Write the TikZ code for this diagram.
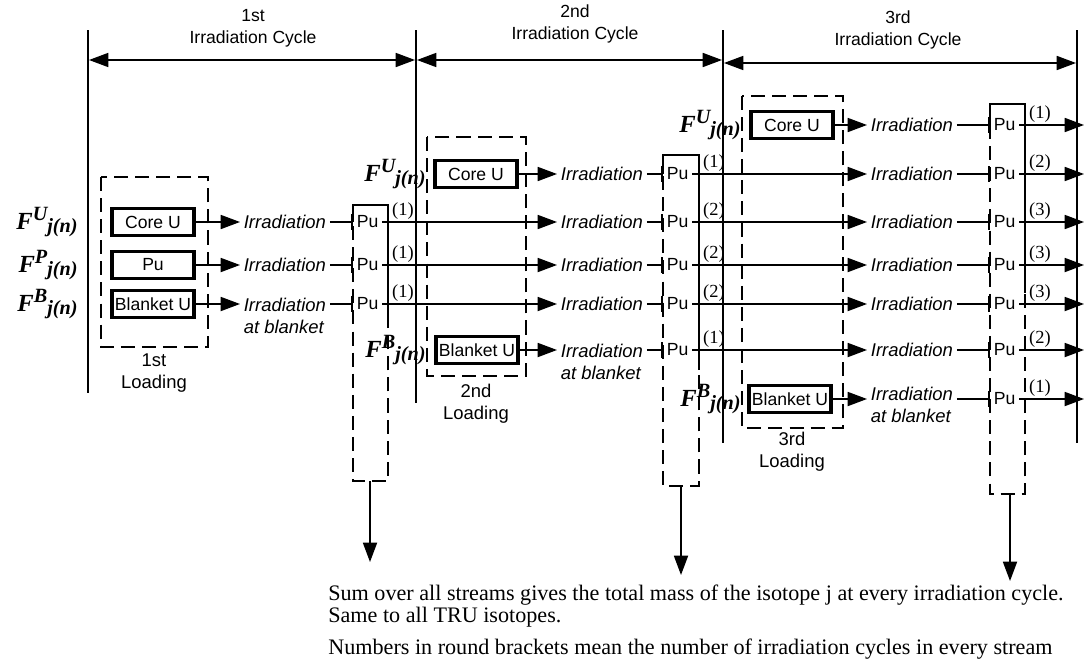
\documentclass[tikz,border=0pt]{standalone}
\usepackage{fontspec}
\setmainfont{Liberation Serif}
\setsansfont{Liberation Sans}
\usetikzlibrary{arrows.meta}

\newcommand{\Flab}[1]{{\fontsize{14}{16}\selectfont\bfseries\itshape F\raisebox{0.36em}{\fontsize{11.5}{13}\selectfont #1}\raisebox{-0.12em}{\fontsize{11.5}{13}\selectfont j(n)}}}

\tikzset{
  line/.style={line width=0.9pt},
  fuelbox/.style={draw, line width=2.2pt, minimum width=1.64cm, minimum height=0.54cm, inner sep=1pt, font=\sffamily\fontsize{10}{12}\selectfont},
  irr/.style={inner sep=2pt, align=left, font=\sffamily\itshape\fontsize{10.5}{12.5}\selectfont},
  pu/.style={anchor=west, inner sep=2pt, font=\sffamily\fontsize{10}{12}\selectfont},
  count/.style={anchor=south west, inner sep=0.5pt, font=\fontsize{10.5}{12}\selectfont},
  flab/.style={anchor=east, inner sep=0pt},
  loading/.style={align=center, font=\sffamily\fontsize{10.5}{12.5}\selectfont},
  cyclab/.style={align=center, font=\sffamily\fontsize{10}{12.5}\selectfont},
  dashbox/.style={line width=0.9pt, dash pattern=on 8pt off 4pt},
  feed/.style={line width=0.9pt, -{Triangle[length=11pt,width=8pt]}},
  span/.style={line width=0.9pt, {Triangle[length=11pt,width=8pt]}-{Triangle[length=11pt,width=8pt]}},
  tick/.style={line width=0.9pt, -{Bar[width=9pt]}},
  note/.style={anchor=north west, align=left, inner sep=0pt, font=\fontsize{12.6}{12}\selectfont},
}

\begin{document}
\begin{tikzpicture}[x=0.02cm, y=-0.02cm]
\useasboundingbox (0,0) rectangle (1084,659);

% irradiation cycles
\draw[line] (88,30) -- (88,393);
\draw[line] (416,30) -- (416,403);
\draw[line] (723,30) -- (723,443);
\draw[line] (1077,30) -- (1077,443);
\coordinate (s1) at (89,60);
\coordinate (s2) at (415,60);
\coordinate (s3) at (417,60);
\coordinate (s4) at (722,60);
\coordinate (s5) at (724,63);
\coordinate (s6) at (1076,63);
\draw[span] (s1) -- (s2);
\draw[span] (s3) -- (s4);
\draw[span] (s5) -- (s6);
\node[cyclab] (cyc1) at (253,28) {1st\\Irradiation Cycle};
\node[cyclab] (cyc2) at (575,24) {2nd\\Irradiation Cycle};
\node[cyclab] (cyc3) at (898,30) {3rd\\Irradiation Cycle};

% 1st loading
\node[flab] (f1u) at (78,222) {\Flab{U}};
\node[flab] (f1p) at (78,265) {\Flab{P}};
\node[flab] (f1b) at (78,304) {\Flab{B}};
\node[fuelbox] (core1) at (153,222) {Core U};
\node[fuelbox] (pu1) at (153,265) {Pu};
\node[fuelbox] (blk1) at (153,304) {Blanket U};
\draw[dashbox] (101,177) rectangle (208,347);
\node[loading] (load1) at (154,373) {1st\\Loading};
\node[irr, anchor=west] (irr1u1) at (240,222) {Irradiation};
\node[irr, anchor=west] (irr1p1) at (240,265) {Irradiation};
\node[irr, anchor=north west] (irr1b1) at (240,294) {Irradiation\\at blanket};
\draw[feed] (core1) -- (irr1u1);
\draw[feed] (pu1) -- (irr1p1);
\draw[feed] (blk1.east) -- (blk1.east -| irr1b1.west);

% Pu after 1st cycle
\draw[dashbox] (353,205) -- (353,481) -- (388,481) -- (388,205);
\draw[line] (353,222) |- (388,205) -- (388,320);
\node[pu] (pu1u1) at (353,222) {Pu};
\node[pu] (pu1p1) at (353,265) {Pu};
\node[pu] (pu1b1) at (353,304) {Pu};
\draw[tick] (irr1u1) -- (pu1u1.west);
\draw[tick] (irr1p1) -- (pu1p1.west);
\draw[tick] (pu1b1.west -| irr1b1.east) -- (pu1b1.west);
\node[count] (k1u1) at (391,221) {(1)};
\node[count] (k1p1) at (391,264) {(1)};
\node[count] (k1b1) at (391,303) {(1)};
\coordinate (out1) at (370,481);
\coordinate (sum1) at (370,562);
\draw[feed] (out1) -- (sum1);

% 2nd loading
\node[flab] (f2u) at (426,174) {\Flab{U}};
\node[flab] (f2b) at (426,350) {\Flab{B}};
\node[fuelbox] (core2) at (476,174) {Core U};
\node[fuelbox] (blk2) at (477,350) {Blanket U};
\draw[dashbox] (427,137) rectangle (526,376);
\node[loading] (load2) at (476,404) {2nd\\Loading};
\node[irr, anchor=west] (irr2u2) at (557,174) {Irradiation};
\node[irr, anchor=west] (irr2u1) at (557,222) {Irradiation};
\node[irr, anchor=west] (irr2p1) at (557,265) {Irradiation};
\node[irr, anchor=west] (irr2b1) at (557,304) {Irradiation};
\node[irr, anchor=north west] (irr2b2) at (557,340) {Irradiation\\at blanket};
\draw[feed] (core2) -- (irr2u2);
\draw[feed] (pu1u1) -- (irr2u1);
\draw[feed] (pu1p1) -- (irr2p1);
\draw[feed] (pu1b1) -- (irr2b1);
\draw[feed] (blk2.east) -- (blk2.east -| irr2b2.west);

% Pu after 2nd cycle
\draw[dashbox] (663,155) -- (663,486) -- (699,486) -- (699,155);
\draw[line] (663,174) |- (699,155) -- (699,370);
\node[pu] (pu2u2) at (663,174) {Pu};
\node[pu] (pu2u1) at (663,222) {Pu};
\node[pu] (pu2p1) at (663,265) {Pu};
\node[pu] (pu2b1) at (663,304) {Pu};
\node[pu] (pu2b2) at (663,350) {Pu};
\draw[tick] (irr2u2) -- (pu2u2.west);
\draw[tick] (irr2u1) -- (pu2u1.west);
\draw[tick] (irr2p1) -- (pu2p1.west);
\draw[tick] (irr2b1) -- (pu2b1.west);
\draw[tick] (pu2b2.west -| irr2b2.east) -- (pu2b2.west);
\node[count] (k2u2) at (702,173) {(1)};
\node[count] (k2u1) at (702,221) {(2)};
\node[count] (k2p1) at (702,264) {(2)};
\node[count] (k2b1) at (702,303) {(2)};
\node[count] (k2b2) at (702,349) {(1)};
\coordinate (out2) at (681,486);
\coordinate (sum2) at (681,575);
\draw[feed] (out2) -- (sum2);

% 3rd loading
\node[flab] (f3u) at (741,125) {\Flab{U}};
\node[flab] (f3b) at (741,399) {\Flab{B}};
\node[fuelbox] (core3) at (792,125) {Core U};
\node[fuelbox] (blk3) at (790,399) {Blanket U};
\draw[dashbox] (742,96) rectangle (843,428);
\node[loading] (load3) at (792,452) {3rd\\Loading};
\node[irr, anchor=west] (irr3u3) at (867,125) {Irradiation};
\node[irr, anchor=west] (irr3u2) at (867,174) {Irradiation};
\node[irr, anchor=west] (irr3u1) at (867,222) {Irradiation};
\node[irr, anchor=west] (irr3p1) at (867,265) {Irradiation};
\node[irr, anchor=west] (irr3b1) at (867,304) {Irradiation};
\node[irr, anchor=west] (irr3b2) at (867,350) {Irradiation};
\node[irr, anchor=north west] (irr3b3) at (867,383) {Irradiation\\at blanket};
\draw[feed] (core3) -- (irr3u3);
\draw[feed] (pu2u2) -- (irr3u2);
\draw[feed] (pu2u1) -- (irr3u1);
\draw[feed] (pu2p1) -- (irr3p1);
\draw[feed] (pu2b1) -- (irr3b1);
\draw[feed] (pu2b2) -- (irr3b2);
\draw[feed] (blk3.east) -- (blk3.east -| irr3b3.west);

% Pu after 3rd cycle
\draw[dashbox] (990,104) -- (990,494) -- (1025,494) -- (1025,104);
\draw[line] (990,125) |- (1025,104) -- (1025,293);
\node[pu] (pu3u3) at (990,125) {Pu};
\node[pu] (pu3u2) at (990,174) {Pu};
\node[pu] (pu3u1) at (990,222) {Pu};
\node[pu] (pu3p1) at (990,265) {Pu};
\node[pu] (pu3b1) at (990,304) {Pu};
\node[pu] (pu3b2) at (990,350) {Pu};
\node[pu] (pu3b3) at (990,399) {Pu};
\draw[tick] (irr3u3) -- (pu3u3.west);
\draw[tick] (irr3u2) -- (pu3u2.west);
\draw[tick] (irr3u1) -- (pu3u1.west);
\draw[tick] (irr3p1) -- (pu3p1.west);
\draw[tick] (irr3b1) -- (pu3b1.west);
\draw[tick] (irr3b2) -- (pu3b2.west);
\draw[tick] (pu3b3.west -| irr3b3.east) -- (pu3b3.west);
\coordinate (e1) at (1084,125);
\coordinate (e2) at (1084,174);
\coordinate (e3) at (1084,222);
\coordinate (e4) at (1084,265);
\coordinate (e5) at (1084,304);
\coordinate (e6) at (1084,350);
\coordinate (e7) at (1084,399);
\draw[feed] (pu3u3) -- (e1);
\draw[feed] (pu3u2) -- (e2);
\draw[feed] (pu3u1) -- (e3);
\draw[feed] (pu3p1) -- (e4);
\draw[feed] (pu3b1) -- (e5);
\draw[feed] (pu3b2) -- (e6);
\draw[feed] (pu3b3) -- (e7);
\node[count] (k3u3) at (1028,124) {(1)};
\node[count] (k3u2) at (1028,173) {(2)};
\node[count] (k3u1) at (1028,221) {(3)};
\node[count] (k3p1) at (1028,264) {(3)};
\node[count] (k3b1) at (1028,303) {(3)};
\node[count] (k3b2) at (1028,349) {(2)};
\node[count] (k3b3) at (1028,398) {(1)};
\coordinate (out3) at (1010,494);
\coordinate (sum3) at (1010,581);
\draw[feed] (out3) -- (sum3);

% notes
\node[note] (note1) at (328,585) {Sum over all streams gives the total mass of the isotope j at every irradiation cycle.\\Same to all TRU isotopes.};
\node[note] (note2) at (328,639) {Numbers in round brackets mean the number of irradiation cycles in every stream};
\end{tikzpicture}
\end{document}
